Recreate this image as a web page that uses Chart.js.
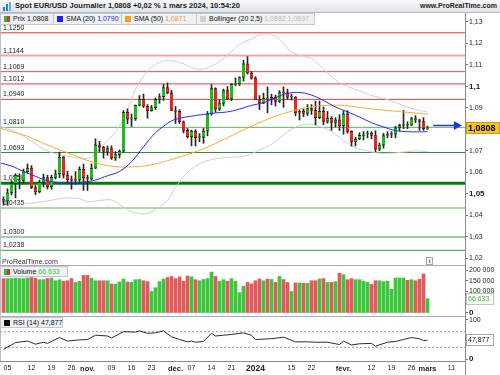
<!DOCTYPE html>
<html lang="fr">
<head>
<meta charset="utf-8">
<title>Spot EUR/USD Journalier</title>
<script src="https://cdn.jsdelivr.net/npm/chart.js@4.4.1/dist/chart.umd.min.js"></script>
<style>
  html, body { margin:0; padding:0; background:#fff; }
  body { width:500px; height:375px; position:relative; overflow:hidden; font-family:"Liberation Sans", Arial, sans-serif; color:#111; }
  .a { position:absolute; }
  canvas { position:absolute; left:0; }
  #hdr { left:0; top:0; width:500px; height:13px; background:linear-gradient(#f8f9fb,#dfe4ea); border-bottom:1px solid #b3bac2; box-sizing:border-box; z-index:5; }
  #title { left:15px; top:0; font:bold 7.5px/12px "Liberation Sans", Arial, sans-serif; white-space:nowrap; color:#1b1b1b; }
  #site { right:3px; top:0; font:bold 7px/12px "Liberation Sans", Arial, sans-serif; white-space:nowrap; color:#1b1b1b; }
  .lg { position:absolute; height:12px; box-sizing:border-box; border:1px solid #c3c8ce; background:#eef0f3; font:7px/10px "Liberation Sans", Arial, sans-serif; white-space:nowrap; padding-left:3px; z-index:5; color:#111; }
  .sq { display:inline-block; width:6px; height:6px; vertical-align:-1px; margin-right:3px; }
  .sep { position:absolute; background:#a6adb5; z-index:4; }
  #prt { left:2px; top:257px; font:7px/9px "Liberation Sans", Arial, sans-serif; color:#333; z-index:5; }
  #info { left:426px; top:257px; width:5px; height:6px; border:1px solid #9aa; background:#f4f4f4; font:bold 6px/6px "Liberation Sans", Arial, sans-serif; text-align:center; color:#555; z-index:5; }
</style>
</head>
<body>
<div id="hdr" class="a">
  <svg class="a" style="left:3px;top:2px" width="9" height="9" viewBox="0 0 9 9">
    <rect x="0" y="5" width="2" height="4" fill="#2a7fd4"/>
    <rect x="3" y="2" width="2" height="7" fill="#2a7fd4"/>
    <rect x="6" y="0" width="2" height="9" fill="#5fb0f0"/>
  </svg>
  <span id="title" class="a">Spot EUR/USD Journalier 1,0808 +0,02 % 1 mars 2024, 10:54:20</span>
  <span id="site" class="a">www.ProRealTime.com</span>
</div>

<div class="lg" style="left:0;top:13px;width:54px"><i class="sq" style="background:linear-gradient(90deg,#2cbf2c 50%,#e03030 50%)"></i>Prix 1,0808</div>
<div class="lg" style="left:53px;top:13px;width:69px"><i class="sq" style="background:#1f1ff5"></i>SMA (20) <span style="color:#1f1ff5">1,0790</span></div>
<div class="lg" style="left:121px;top:13px;width:76px"><i class="sq" style="background:#ff9a1a"></i>SMA (50) <span style="color:#ff9a1a">1,0871</span></div>
<div class="lg" style="left:196px;top:13px;width:119px"><i class="sq" style="background:#cfcfcf"></i>Bollinger (20 2,5) <span style="color:#bdbdbd">1,0882 1,0697</span></div>

<canvas id="cMain" width="500" height="252" style="top:13px"></canvas>
<canvas id="cVol" width="500" height="53" style="top:265px"></canvas>
<canvas id="cRsi" width="500" height="59" style="top:316px"></canvas>

<div id="prt" class="a">ProRealTime.com</div>
<div id="info" class="a">i</div>
<div class="lg" style="left:0;top:266px;width:68px;height:11px"><i class="sq" style="background:linear-gradient(90deg,#2cbf2c 50%,#e03030 50%)"></i>Volume <span style="color:#3cc23c">66 633</span></div>
<div class="lg" style="left:0;top:317px;width:63px;height:11px"><i class="sq" style="background:#111"></i>RSI (14) 47,877</div>

<div class="sep" style="left:0;top:265px;width:465px;height:1px"></div>
<div class="sep" style="left:0;top:316px;width:465px;height:1px"></div>
<div class="sep" style="left:0;top:13px;width:1px;height:348px;background:#b8bec5"></div>
<div class="sep" style="left:465px;top:361px;width:1px;height:14px;background:#8a8a8a"></div>

<script>
// ---------------- DATA ----------------
// Daily candles, Oct 3 2023 (index 0) .. Mar 1 2024 (index 106)
const open  = [1.0474,1.0467,1.0505,1.0548,1.0560,1.0563,1.0604,1.0620,1.0530,1.0510,
               1.0555,1.0576,1.0534,1.0577,1.0594,1.0672,1.0588,1.0566,1.0563,1.0565,
               1.0615,1.0576,1.0570,1.0620,1.0729,1.0718,1.0698,1.0711,1.0667,1.0683,
               1.0699,1.0880,1.0848,1.0850,1.0912,1.0940,1.0908,1.0887,1.0902,1.0940,
               1.0953,1.0995,1.0970,1.0889,1.0884,1.0836,1.0796,1.0765,1.0793,1.0762,
               1.0763,1.0793,1.0873,1.0990,1.0895,1.0921,1.0981,1.0942,1.1010,1.1012,
               1.1042,1.1105,1.1062,1.1039,1.0940,1.0922,1.0945,1.0941,1.0950,1.0931,
               1.0972,1.0970,1.0950,1.0951,1.0877,1.0884,1.0875,1.0897,1.0889,1.0855,
               1.0885,1.0837,1.0853,1.0833,1.0845,1.0818,1.0873,1.0791,1.0742,1.0756,
               1.0773,1.0779,1.0783,1.0772,1.0708,1.0727,1.0772,1.0777,1.0778,1.0808,
               1.0819,1.0823,1.0820,1.0851,1.0845,1.0837,1.0804];
const high  = [1.0487,1.0525,1.0562,1.0595,1.0594,1.0616,1.0640,1.0632,1.0540,1.0565,
               1.0593,1.0587,1.0588,1.0612,1.0695,1.0675,1.0606,1.0584,1.0604,1.0627,
               1.0639,1.0588,1.0640,1.0757,1.0745,1.0722,1.0723,1.0724,1.0697,1.0705,
               1.0888,1.0896,1.0872,1.0914,1.0958,1.0965,1.0916,1.0912,1.0947,1.0966,
               1.1010,1.1017,1.0982,1.0907,1.0892,1.0840,1.0805,1.0797,1.0799,1.0781,
               1.0806,1.0884,1.1009,1.0994,1.0940,1.0988,1.1000,1.1013,1.1040,1.1046,
               1.1122,1.1139,1.1070,1.1046,1.0958,1.0969,1.0998,1.0964,1.0960,1.0981,
               1.0999,1.0988,1.0964,1.0953,1.0890,1.0897,1.0916,1.0916,1.0932,1.0932,
               1.0905,1.0884,1.0860,1.0855,1.0869,1.0888,1.0888,1.0794,1.0764,1.0785,
               1.0790,1.0793,1.0790,1.0794,1.0737,1.0782,1.0790,1.0790,1.0815,1.0825,
               1.0889,1.0836,1.0857,1.0865,1.0847,1.0855,1.0816];
const low   = [1.0448,1.0448,1.0496,1.0482,1.0524,1.0552,1.0596,1.0525,1.0496,1.0505,
               1.0533,1.0523,1.0522,1.0570,1.0576,1.0574,1.0551,1.0522,1.0545,1.0548,
               1.0517,1.0516,1.0566,1.0618,1.0697,1.0667,1.0680,1.0661,1.0656,1.0668,
               1.0695,1.0827,1.0814,1.0842,1.0910,1.0902,1.0852,1.0885,1.0893,1.0922,
               1.0936,1.0966,1.0888,1.0828,1.0828,1.0784,1.0760,1.0724,1.0723,1.0743,
               1.0736,1.0771,1.0866,1.0880,1.0888,1.0910,1.0940,1.0934,1.1003,1.1005,
               1.1025,1.1058,1.1034,1.0940,1.0892,1.0920,1.0877,1.0915,1.0909,1.0925,
               1.0903,1.0939,1.0937,1.0864,1.0844,1.0860,1.0865,1.0870,1.0822,1.0850,
               1.0822,1.0829,1.0796,1.0811,1.0795,1.0778,1.0783,1.0723,1.0723,1.0753,
               1.0751,1.0761,1.0757,1.0696,1.0701,1.0713,1.0761,1.0762,1.0761,1.0794,
               1.0804,1.0804,1.0819,1.0832,1.0796,1.0796,1.0800];
const close = [1.0467,1.0505,1.0548,1.0588,1.0563,1.0604,1.0620,1.0530,1.0510,1.0555,
               1.0576,1.0534,1.0577,1.0594,1.0672,1.0588,1.0566,1.0563,1.0565,1.0615,
               1.0576,1.0570,1.0620,1.0729,1.0718,1.0698,1.0711,1.0667,1.0683,1.0699,
               1.0880,1.0848,1.0850,1.0912,1.0940,1.0908,1.0887,1.0902,1.0940,1.0953,
               1.0995,1.0970,1.0889,1.0884,1.0836,1.0796,1.0765,1.0793,1.0762,1.0763,
               1.0793,1.0873,1.0990,1.0895,1.0921,1.0981,1.0942,1.1010,1.1012,1.1042,
               1.1105,1.1062,1.1039,1.0940,1.0922,1.0945,1.0941,1.0950,1.0931,1.0972,
               1.0970,1.0950,1.0951,1.0877,1.0884,1.0875,1.0897,1.0889,1.0855,1.0885,
               1.0837,1.0853,1.0833,1.0845,1.0818,1.0873,1.0791,1.0742,1.0756,1.0773,
               1.0779,1.0783,1.0772,1.0708,1.0727,1.0772,1.0777,1.0778,1.0808,1.0819,
               1.0823,1.0820,1.0851,1.0845,1.0837,1.0804,1.0808];
const volume = [160000,160000,160000,162000,160000,160000,163000,165000,162000,155000,
                155000,160000,163000,150000,155000,148000,150000,160000,142000,147000,
                175000,175000,162000,150000,150000,150000,150000,135000,134000,145000,
                158000,144000,143000,155000,156000,150000,146000,100000,118000,146000,
                158000,165000,170000,160000,168000,148000,172000,168000,155000,150000,
                156000,160000,190000,170000,148000,155000,148000,160000,148000,95000,
                125000,142000,136000,150000,158000,150000,158000,156000,142000,170000,
                156000,142000,100000,140000,140000,138000,138000,150000,150000,158000,
                160000,142000,142000,146000,185000,178000,155000,160000,155000,155000,
                148000,142000,133000,150000,150000,146000,148000,110000,163000,163000,
                163000,152000,155000,150000,157000,182000,66633];

// Indicator lines, read at key days (day index -> value)
const sma20Idx = [-1,2,5,8,11,14,17,20,23,26,29,32,35,38,40,42,44,47,50,53,56,59,62,65,68,71,74,77,80,83,86,89,92,95,98,101,104,106];
const sma20Val = [1.0645,1.0630,1.0605,1.0582,1.0562,1.0553,1.0550,1.0555,1.0565,1.0585,1.0605,1.0650,1.0720,1.0785,1.0815,1.0840,1.0852,1.0862,1.0870,1.0877,1.0882,1.0895,1.0912,1.0925,1.0948,1.0968,1.0972,1.0960,1.0935,1.0905,1.0882,1.0858,1.0832,1.0812,1.0795,1.0790,1.0789,1.0790];
const sma50Idx = [-1,2,5,8,11,14,17,20,23,26,29,32,35,38,41,44,47,50,53,56,59,62,65,68,71,74,77,80,83,86,89,92,95,98,101,104,106];
const sma50Val = [1.0808,1.0790,1.0775,1.0752,1.0728,1.0705,1.0685,1.0662,1.0645,1.0632,1.0626,1.0626,1.0630,1.0640,1.0655,1.0672,1.0690,1.0710,1.0735,1.0762,1.0790,1.0815,1.0840,1.0862,1.0880,1.0895,1.0905,1.0911,1.0913,1.0910,1.0903,1.0896,1.0890,1.0885,1.0880,1.0875,1.0871];
const bbUpIdx  = [-1,3,7,11,15,19,22,25,27,30,33,36,39,42,45,49,53,56,59,62,64,67,70,72,75,77,79,81,83,86,89,92,95,98,101,104,106];
const bbUpVal  = [1.0815,1.0790,1.0745,1.0700,1.0680,1.0668,1.0672,1.0730,1.0765,1.0850,1.0985,1.1070,1.1112,1.1120,1.1105,1.1080,1.1105,1.1145,1.1195,1.1222,1.1240,1.1242,1.1200,1.1160,1.1140,1.1130,1.1100,1.1065,1.1030,1.1000,1.0980,1.0958,1.0945,1.0925,1.0905,1.0888,1.0882];
const bbLowIdx = [-1,3,7,11,15,19,21,24,27,30,33,36,39,41,43,46,49,52,55,58,61,64,67,70,73,76,79,82,85,88,91,94,97,100,103,106];
const bbLowVal = [1.0465,1.0455,1.0458,1.0468,1.0480,1.0478,1.0465,1.0470,1.0472,1.0440,1.0412,1.0410,1.0440,1.0470,1.0530,1.0600,1.0640,1.0660,1.0668,1.0672,1.0680,1.0705,1.0730,1.0775,1.0810,1.0825,1.0815,1.0790,1.0750,1.0715,1.0700,1.0690,1.0690,1.0695,1.0700,1.0697];
const rsiIdx = [0,2,3,6,8,10,11,14,16,19,21,23,26,27,30,33,34,36,38,40,42,44,46,47,48,50,52,53,55,57,60,62,63,67,70,73,76,78,81,84,85,87,89,92,93,96,98,100,102,104,105,106];
const rsiVal = [25,36,42,46,38,43,40,55,46,49,50,61,59,54,70,69,72,66,67,72,57,50,44,46,43,45,66,59,61,63,67,61,50,52,56,44,44,43,43,37,46,36,39,40,33,43,45,50,55,52,47.3,47.877];
const rsiLevels = [70, 30];

// Horizontal support / resistance levels and their labels
const levels      = [1.1250, 1.1144, 1.1069, 1.1012, 1.0940, 1.0810, 1.0693, 1.0550, 1.0435, 1.0300, 1.0238];
const levelLabels = ['1,1250','1,1144','1,1069','1,1012','1,0940','1,0810','1,0693','1,0550','1,0435','1,0300','1,0238'];

// Tick labels
const priceTicks = [1.02,1.03,1.04,1.05,1.06,1.07,1.08,1.09,1.10,1.11,1.12,1.13];
const volTicks   = [0, 50000, 100000, 150000, 200000];
const rsiTicks   = [0, 100];
const xTickIdx    = [1, 7, 12, 17, 21, 27, 32, 37, 43, 47, 52, 57, 63, 72, 77, 85, 92, 97, 102, 106, 112];
const xTickLabels = ['05','12','19','26','nov.','09','16','23','déc.','07','14','21','2024','15','22','févr.','12','19','26','mars','11'];

// ---------------- STYLES ----------------
const levelColors = ['#f03a3a','#f5a5a5','#f04848','#f03a3a','#f03a3a','#5cb85c','#2f8f2f','#087a08','#acd9ac','#3d9d3d','#3d9d3d'];
const levelWidths = [1, 2, 1, 1, 1, 1, 1, 3, 2, 1, 1];
const FONT = '"Liberation Sans", Arial, sans-serif';
const X_MIN = -0.875, X_MAX = 115.375;   // 4 px per day over a 465 px plot

Chart.defaults.font.family = FONT;
Chart.defaults.animation = false;

const pts = (xs, ys) => xs.map((x, k) => ({ x, y: ys[k] }));
const days = close.map((_, i) => i);
const up = days.map(i => close[i] >= open[i]);
const fmtPrice = v => String(Math.round(v * 100) / 100).replace('.', ',');
const fmtVol = v => String(Math.round(v)).replace(/\B(?=(\d{3})+(?!\d))/g, ' ');
function fixRight(s) { s.width = 35; s.paddingTop = 0; s.paddingBottom = 0; }

const base = {
  responsive: false, maintainAspectRatio: false, animation: false, events: [],
  layout: { padding: 0 },
  plugins: { legend: { display: false }, tooltip: { enabled: false } }
};
const xHidden = { type: 'linear', min: X_MIN, max: X_MAX, display: false, offset: false };

function tag(ctx, x, y, w, text, font, fg, bg, border) {
  ctx.save();
  ctx.fillStyle = bg; ctx.strokeStyle = border; ctx.lineWidth = 1;
  const top = Math.round(y) - 6;
  ctx.fillRect(x, top, w, 12);
  ctx.strokeRect(x + 0.5, top + 0.5, w - 1, 11);
  ctx.font = font; ctx.fillStyle = fg; ctx.textBaseline = 'middle';
  ctx.fillText(text, x + 2, top + 6.5);
  ctx.restore();
}

// ---------------- MAIN PRICE PANEL ----------------
const mainDeco = {
  id: 'mainDeco',
  beforeDatasetsDraw(chart) {
    const { ctx } = chart; const ys = chart.scales.y;
    ctx.save();
    ctx.font = '7px ' + FONT; ctx.fillStyle = '#1a1a1a'; ctx.textBaseline = 'alphabetic';
    levels.forEach((v, k) => ctx.fillText(levelLabels[k], 3, Math.round(ys.getPixelForValue(v)) - 3));
    ctx.restore();
  },
  afterDraw(chart) {
    const { ctx, chartArea } = chart; const ys = chart.scales.y, xs = chart.scales.x;
    const last = close[close.length - 1];
    const py = ys.getPixelForValue(last);
    const ay = Math.round(py) - 3 + 0.5;
    const x0 = xs.getPixelForValue(107.4), x1 = xs.getPixelForValue(114.6);
    ctx.save();
    ctx.strokeStyle = '#2236e8'; ctx.fillStyle = '#2236e8'; ctx.lineWidth = 1.5;
    ctx.beginPath(); ctx.moveTo(x0, ay); ctx.lineTo(x1 - 6, ay); ctx.stroke();
    ctx.beginPath(); ctx.moveTo(x1 - 8, ay - 4.5); ctx.lineTo(x1, ay); ctx.lineTo(x1 - 8, ay + 4.5); ctx.closePath(); ctx.fill();
    ctx.restore();
    tag(ctx, chartArea.right + 1, py, 34, fmtPrice4(last), 'bold 9px ' + FONT, '#000', '#f7c51c', '#cf9f00');
  }
};
function fmtPrice4(v) { return v.toFixed(4).replace('.', ','); }

new Chart(document.getElementById('cMain'), {
  type: 'bar',
  data: {
    datasets: [
      ...levels.map((v, k) => ({
        type: 'line', data: [{ x: X_MIN, y: v }, { x: X_MAX, y: v }],
        borderColor: levelColors[k], borderWidth: levelWidths[k], pointRadius: 0, order: 10
      })),
      { type: 'line', data: pts(bbUpIdx, bbUpVal), borderColor: '#cdcdcd', borderWidth: 1, pointRadius: 0, tension: 0.4, order: 9 },
      { type: 'line', data: pts(bbLowIdx, bbLowVal), borderColor: '#cdcdcd', borderWidth: 1, pointRadius: 0, tension: 0.4, order: 9 },
      { type: 'bar', data: days.map(i => ({ x: i, y: [low[i], high[i]] })), backgroundColor: '#262626',
        barThickness: 1, grouped: false, order: 4 },
      { type: 'bar', data: days.map(i => ({ x: i, y: [Math.min(open[i], close[i]), Math.max(open[i], close[i])] })),
        backgroundColor: days.map(i => up[i] ? '#1dbb1d' : '#e32626'),
        borderColor: '#262626', borderWidth: { top: 1, bottom: 1, left: 0, right: 0 }, borderSkipped: false,
        barThickness: 3, grouped: false, minBarLength: 1, order: 3 },
      { type: 'line', data: pts(sma50Idx, sma50Val), borderColor: '#ffa52a', borderWidth: 1, pointRadius: 0, tension: 0.4, order: 2 },
      { type: 'line', data: pts(sma20Idx, sma20Val), borderColor: '#2424ff', borderWidth: 1, pointRadius: 0, tension: 0.4, order: 1 }
    ]
  },
  options: {
    ...base,
    scales: {
      x: xHidden,
      y: {
        position: 'right', min: 1.0169767, max: 1.1341860,
        afterBuildTicks: s => { s.ticks = priceTicks.map(v => ({ value: v })); },
        afterFit: fixRight,
        grid: { drawOnChartArea: false, drawTicks: true, tickLength: 3, color: '#777' },
        border: { display: true, color: '#8a8a8a' },
        ticks: {
          autoSkip: false, padding: 1, color: '#222',
          font: c => {
            const v = c.tick ? c.tick.value : 0;
            const round = Math.abs(v * 20 - Math.round(v * 20)) < 1e-6;
            return round ? { size: 8, weight: 'bold', family: FONT } : { size: 7, family: FONT };
          },
          callback: v => fmtPrice(v)
        }
      }
    }
  },
  plugins: [mainDeco]
});

// ---------------- VOLUME PANEL ----------------
const volDeco = {
  id: 'volDeco',
  afterDraw(chart) {
    const ys = chart.scales.y; const last = volume[volume.length - 1];
    tag(chart.ctx, chart.chartArea.right + 1, ys.getPixelForValue(last), 28, fmtVol(last), '7px ' + FONT, '#2fb82f', '#ffffff', '#b9c9b9');
  }
};
new Chart(document.getElementById('cVol'), {
  type: 'bar',
  data: {
    datasets: [{
      data: days.map(i => ({ x: i, y: volume[i] })),
      backgroundColor: days.map(i => up[i] ? '#3cc63c' : '#e05a5a'),
      barThickness: 3, grouped: false
    }]
  },
  options: {
    ...base,
    scales: {
      x: xHidden,
      y: {
        position: 'right', min: -23256, max: 223256,
        afterBuildTicks: s => { s.ticks = volTicks.map(v => ({ value: v })); },
        afterFit: fixRight,
        grid: { drawOnChartArea: false, drawTicks: true, tickLength: 3, color: '#777' },
        border: { display: true, color: '#8a8a8a' },
        ticks: {
          autoSkip: false, padding: 1, color: '#222',
          font: c => (c.tick && c.tick.value === 0) ? { size: 8, weight: 'bold', family: FONT } : { size: 7, family: FONT },
          callback: v => fmtVol(v)
        }
      }
    }
  },
  plugins: [volDeco]
});

// ---------------- RSI PANEL ----------------
const rsiDeco = {
  id: 'rsiDeco',
  afterDraw(chart) {
    const ys = chart.scales.y; const last = rsiVal[rsiVal.length - 1];
    tag(chart.ctx, chart.chartArea.right + 1, ys.getPixelForValue(last), 28, last.toFixed(3).replace('.', ','), '7px ' + FONT, '#111', '#ffffff', '#a9a9a9');
  }
};
new Chart(document.getElementById('cRsi'), {
  type: 'line',
  data: {
    datasets: [
      ...rsiLevels.map(v => ({
        data: [{ x: X_MIN, y: v }, { x: X_MAX, y: v }], borderColor: '#9a9a9a', borderWidth: 1,
        borderDash: [2, 2], pointRadius: 0, order: 5
      })),
      { data: pts(rsiIdx, rsiVal), borderColor: '#2b2b2b', borderWidth: 1, pointRadius: 0, tension: 0, order: 1 }
    ]
  },
  options: {
    ...base,
    scales: {
      x: {
        type: 'linear', min: X_MIN, max: X_MAX, offset: false, position: 'bottom',
        afterBuildTicks: s => { s.ticks = xTickIdx.map(v => ({ value: v })); },
        afterFit: s => { s.height = 14; s.paddingLeft = 0; s.paddingRight = 0; },
        grid: { display: false, drawTicks: false },
        border: { display: true, color: '#8a8a8a' },
        ticks: {
          autoSkip: false, maxRotation: 0, minRotation: 0, padding: 3, color: '#222',
          font: c => {
            const lab = xTickLabels[c.index] || '';
            if (/^\d{4}$/.test(lab)) return { size: 8.5, weight: 'bold', family: FONT };
            if (/^\d\d$/.test(lab)) return { size: 7, family: FONT };
            return { size: 7.5, weight: 'bold', family: FONT };
          },
          callback: (v, k) => xTickLabels[k]
        }
      },
      y: {
        position: 'right', min: -5.128, max: 110.256,
        afterBuildTicks: s => { s.ticks = rsiTicks.map(v => ({ value: v })); },
        afterFit: fixRight,
        grid: { drawOnChartArea: false, drawTicks: true, tickLength: 3, color: '#777' },
        border: { display: true, color: '#8a8a8a' },
        ticks: {
          autoSkip: false, padding: 1, color: '#222',
          font: c => (c.tick && c.tick.value === 0) ? { size: 8, weight: 'bold', family: FONT } : { size: 7, family: FONT },
          callback: v => String(v)
        }
      }
    }
  },
  plugins: [rsiDeco]
});
</script>
</body>
</html>
